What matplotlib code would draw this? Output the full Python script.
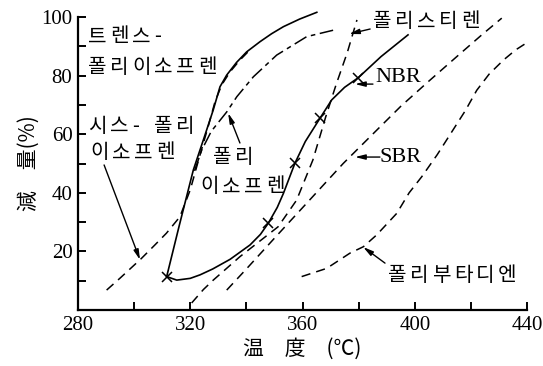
import matplotlib
matplotlib.use('Agg')
import matplotlib.pyplot as plt

plt.rcParams['font.family'] = ['Noto Sans CJK KR', 'DejaVu Sans']

# 각 고분자의 온도(°C) - 감량(%) 곡선
trans_T = [311.6, 316.0, 321.1, 325.0, 328.2, 330.6, 333.0, 336.5, 340.1, 344.9, 349.0, 353.2, 359.0, 365.1]
trans_W = [11.4, 28.5, 47.8, 59.0, 68.3, 76.2, 80.2, 84.5, 88.1, 91.6, 94.3, 96.7, 99.3, 101.6]

cis_T = [290.2, 294.9, 302.6, 307.4, 311.5, 316.3, 320.0, 323.5, 326.5, 328.8, 331.2, 334.2, 337.7, 341.0]
cis_W = [6.8, 10.8, 17.6, 22.2, 26.2, 31.8, 41.0, 53.0, 63.0, 71.0, 76.8, 81.3, 85.3, 88.5]

pi_T = [321.5, 324.1, 327.5, 333.0, 336.6, 342.5, 350.8, 361.5, 371.0]
pi_W = [47.5, 54.6, 61.0, 67.6, 72.8, 79.6, 87.0, 93.3, 95.5]

nbr_T = [311.6, 315.2, 320.0, 323.5, 328.0, 334.2, 341.3, 345.0, 347.8, 351.0, 353.2, 357.3, 361.0, 366.2, 370.4, 375.0, 379.9, 388.0, 397.6]
nbr_W = [11.4, 10.2, 10.8, 12.0, 14.0, 17.3, 22.2, 25.8, 29.6, 35.0, 39.8, 50.1, 57.5, 65.4, 71.7, 76.0, 79.3, 86.5, 93.9]
nbr_mark_T = [311.6, 347.8, 357.3, 366.2, 379.9]
nbr_mark_W = [11.4, 29.6, 50.1, 65.4, 79.3]

ps_T = [320.5, 324.7, 328.2, 337.7, 346.1, 351.3, 355.0, 357.9, 363.7, 368.3, 372.0, 376.0, 379.4]
ps_W = [2.4, 7.0, 10.2, 18.2, 24.5, 28.4, 33.5, 37.5, 51.2, 66.0, 77.0, 88.0, 99.0]

sbr_T = [333.0, 340.0, 350.0, 362.5, 374.5, 385.0, 395.0, 404.3, 415.0, 424.0, 431.0]
sbr_W = [6.8, 14.0, 24.5, 37.5, 50.0, 60.0, 69.5, 77.5, 86.5, 94.0, 99.6]

pb_T = [359.7, 368.6, 376.9, 381.7, 386.4, 393.6, 398.0, 402.5, 408.0, 413.6, 418.0, 422.1, 426.5, 431.6, 436.0, 440.4]
pb_W = [11.4, 14.2, 19.4, 21.6, 25.6, 33.0, 40.0, 45.5, 53.0, 61.4, 68.0, 75.0, 80.5, 85.3, 88.8, 91.5]

xticks = list(range(280, 441, 20))
xlabels = ['280', '', '320', '', '360', '', '400', '', '440']
yticks = list(range(0, 101, 10))
ylabels = ['', '', '20', '', '40', '', '60', '', '80', '', '100']

fig = plt.figure(figsize=(5.43, 3.66), dpi=100)
ax = fig.add_axes([78/543, 56/366, 449/543, 293/366])

dash = (0, (6, 4))
ax.plot(trans_T, trans_W, 'k-', lw=1.2, clip_on=False)
ax.plot(cis_T, cis_W, 'k', ls=dash, lw=1.1)
ax.plot(pi_T, pi_W, 'k', ls=(0, (9, 3, 3, 3)), lw=1.1)
ax.plot(nbr_T, nbr_W, 'k-', lw=1.2)
ax.plot(nbr_mark_T, nbr_mark_W, 'kx', ms=7, mew=1.1)
ax.plot(ps_T, ps_W, 'k', ls=dash, lw=1.1)
ax.plot(sbr_T, sbr_W, 'k', ls=dash, lw=1.1)
ax.plot(pb_T, pb_W, 'k', ls=dash, lw=1.1)

ax.set_xlim(280, 440)
ax.set_ylim(0, 100)
ax.spines['top'].set_visible(False)
ax.spines['right'].set_visible(False)
ax.spines['left'].set_linewidth(1.6)
ax.spines['bottom'].set_linewidth(1.6)
ax.set_xticks(xticks)
ax.set_xticklabels(xlabels, family='Liberation Serif', fontsize=15)
ax.set_yticks(yticks)
ax.set_yticklabels(ylabels, family='Liberation Serif', fontsize=15)
ax.tick_params(direction='in', length=6, width=1.4, pad=4)

ax.set_xlabel('温\u3000度\u3000(℃)', fontsize=15, labelpad=2)
ax.set_ylabel('減\u3000量(%)', fontsize=15, labelpad=1)


def spaced(x, y, s, size=14.5):
    # 한 글자씩 간격을 두고 배치 (px 단위 피치)
    off = 0.0
    for ch in s:
        if ch != ' ':
            ax.annotate(ch, xy=(x, y), xytext=(off * 0.72, 0), textcoords='offset points',
                        fontsize=size, va='center', ha='left')
        off += 22 if ch not in '- ' else (12 if ch == '-' else 10)


spaced(283.6, 93.2, '트렌스-')
spaced(283.6, 82.9, '폴리이소프렌')
spaced(283.6, 62.5, '시스- 폴리')
spaced(284.3, 53.6, '이소프렌')
spaced(328.0, 52.2, '폴리')
spaced(323.5, 42.0, '이소프렌')
spaced(385.1, 98.3, '폴리스티렌')
spaced(390.5, 11.9, '폴리부타디엔')
ax.text(385.8, 79.2, 'NBR', family='Liberation Serif', fontsize=16, va='center')
ax.text(387.6, 52.2, 'SBR', family='Liberation Serif', fontsize=16, va='center')

arrow = dict(arrowstyle='-|>,head_length=0.6,head_width=0.15', lw=1.0, color='black', shrinkA=0, shrinkB=0)
ax.annotate('', xy=(302.1, 17.1), xytext=(289.3, 49.5), arrowprops=arrow)
ax.annotate('', xy=(333.5, 67.2), xytext=(337.7, 57.0), arrowprops=arrow)
ax.annotate('', xy=(376.6, 94.2), xytext=(384.1, 95.9), arrowprops=arrow)
ax.annotate('', xy=(378.7, 77.1), xytext=(385.1, 77.1), arrowprops=arrow)
ax.annotate('', xy=(378.7, 52.2), xytext=(387.6, 52.2), arrowprops=arrow)
ax.annotate('', xy=(381.6, 21.5), xytext=(389.4, 16.0), arrowprops=arrow)

fig.savefig('out.png', dpi=100)
